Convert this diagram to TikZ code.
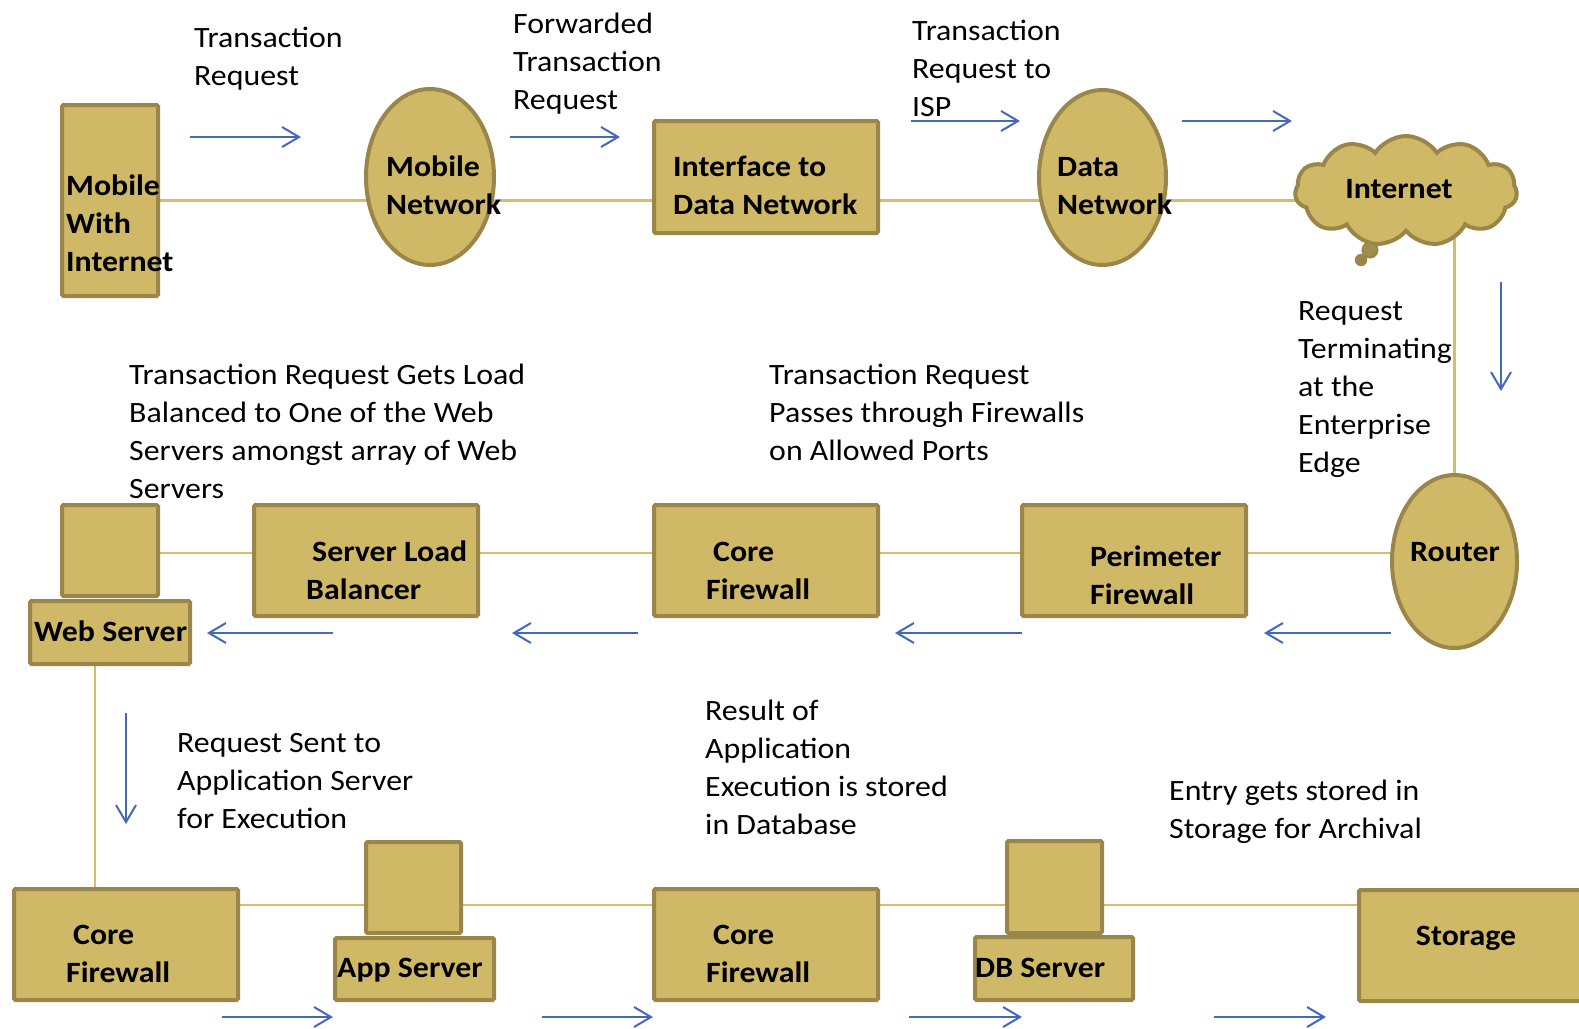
\documentclass[tikz,border=0pt]{standalone}
\usepackage{fontspec}
\setmainfont{Carlito}[FakeStretch=1.08]
\usetikzlibrary{shapes.geometric,shapes.symbols,arrows.meta,backgrounds}
\definecolor{boxfill}{HTML}{CFB966}
\definecolor{bord}{HTML}{9A8648}
\definecolor{conn}{HTML}{D2BE6E}
\definecolor{flowc}{HTML}{4468C0}
\tikzset{
  box/.style={draw=bord, fill=boxfill, line width=4pt, rounded corners=1.5pt, inner sep=0pt},
  oval/.style={ellipse, draw=bord, fill=boxfill, line width=4pt, inner sep=0pt},
  lbl/.style={inner sep=0pt, font=\fontsize{29.5}{38}\selectfont, anchor=base west},
  blbl/.style={inner sep=0pt, font=\fontsize{29.5}{38}\selectfont\bfseries, anchor=base west},
  conline/.style={draw=conn, line width=2.5pt},
  flow/.style={draw=flowc, line width=2pt, -{Straight Barb[length=17pt,width=20pt,line width=2pt]}},
}
\newcommand{\ml}[1]{\begin{tabular}[t]{@{}l@{}}#1\end{tabular}}
\begin{document}
\begin{tikzpicture}[x=1pt,y=-1pt]
\useasboundingbox (0,0) rectangle (1579,1028);

% ---------- top row
\node[box, minimum width=96pt, minimum height=191pt] (mob) at (110,200.5) {};
\node[oval, minimum width=128pt, minimum height=176pt] (mobnet) at (430,177) {};
\node[box, minimum width=224pt, minimum height=112pt] (iface) at (766,177) {};
\node[oval, minimum width=127pt, minimum height=175pt] (datanet) at (1102.5,177.5) {};
\node[cloud, draw=bord, fill=boxfill, line width=4pt, cloud puffs=11, cloud puff arc=115, aspect=2.0, minimum width=222pt, minimum height=110pt, inner sep=0pt] (cloud) at (1406,191) {};
\node[circle, draw=bord, fill=bord!85!boxfill, line width=2pt, minimum size=15pt, inner sep=0pt] (bub1) at (1370,250) {};
\node[circle, draw=bord, fill=bord, minimum size=12pt, inner sep=0pt] (bub2) at (1361,260) {};

% ---------- middle row
\node[oval, minimum width=125pt, minimum height=173pt] (router) at (1454.5,561.5) {};
\node[box, minimum width=224pt, minimum height=111pt] (perim) at (1134,560.5) {};
\node[box, minimum width=224pt, minimum height=111pt] (coremid) at (766,560.5) {};
\node[box, minimum width=224pt, minimum height=111pt] (slb) at (366,560.5) {};
\node[box, minimum width=96pt, minimum height=91pt] (webtop) at (110,550.5) {};
\node[box, minimum width=160pt, minimum height=63pt] (webbot) at (110,632.5) {};

% ---------- bottom row
\node[box, minimum width=224pt, minimum height=111pt] (corebl) at (126,944.5) {};
\node[box, minimum width=95pt, minimum height=91pt] (apptop) at (413.5,887.5) {};
\node[box, minimum width=159pt, minimum height=62pt] (appbot) at (414.5,969) {};
\node[box, minimum width=224pt, minimum height=111pt] (corebm) at (766,944.5) {};
\node[box, minimum width=95pt, minimum height=92pt] (dbtop) at (1054.5,887) {};
\node[box, minimum width=158pt, minimum height=63pt] (dbbot) at (1054,968.5) {};
\node[box, minimum width=239pt, minimum height=111pt] (storage) at (1478.5,945.5) {};

% ---------- helper coordinates for connector lines
\coordinate (mline) at (0,553);
\coordinate (bline) at (0,905);
\coordinate (vx) at (95,0);

\begin{scope}[on background layer]
  \fill[white] (0,0) rectangle (1579,1028);
  \draw[conline] (mob.center) -- (mob.center -| mobnet.center) -- (mob.center -| iface.center)
        -- (mob.center -| datanet.center) -- (mob.center -| cloud.center);
  \draw[conline] (cloud.center -| router.center) -- (router.center);
  \draw[conline] (router.center |- mline) -- (perim.center |- mline) -- (coremid.center |- mline)
        -- (slb.center |- mline) -- (webtop.center |- mline);
  \draw[conline] (webbot.center -| vx) -- (corebl.center -| vx);
  \draw[conline] (corebl.center |- bline) -- (apptop.center |- bline) -- (corebm.center |- bline)
        -- (dbtop.center |- bline) -- (storage.center |- bline);
\end{scope}

% ---------- labels in shapes
\node[blbl] (mob-t) at (66,195) {\ml{Mobile\\With\\Internet}};
\node[blbl] (mobnet-t) at (386,176) {\ml{Mobile\\Network}};
\node[blbl] (iface-t) at (673,176) {\ml{Interface to\\Data Network}};
\node[blbl] (datanet-t) at (1057,176) {\ml{Data\\Network}};
\node[blbl, anchor=base] (cloud-t) at (1399,198) {Internet};
\node[blbl] (router-t) at (1410,561) {Router};
\node[blbl] (perim-t) at (1090,566) {\ml{Perimeter\\Firewall}};
\node[blbl] (coremid-t) at (706,561) {\ml{\hspace*{7pt}Core\\Firewall}};
\node[blbl] (slb-t) at (306,561) {\ml{\hspace*{6pt}Server Load\\Balancer}};
\node[blbl] (web-t) at (34,641) {Web Server};
\node[blbl] (corebl-t) at (66,944) {\ml{\hspace*{7pt}Core\\Firewall}};
\node[blbl] (app-t) at (337,977) {App Server};
\node[blbl] (corebm-t) at (706,944) {\ml{\hspace*{7pt}Core\\Firewall}};
\node[blbl] (db-t) at (975,977) {DB Server};
\node[blbl, anchor=base] (storage-t) at (1466,945) {Storage};

% ---------- free labels
\node[lbl] (l1) at (194,47) {\ml{Transaction\\Request}};
\node[lbl] (l2) at (513,33) {\ml{Forwarded\\Transaction\\Request}};
\node[lbl] (l3) at (912,40) {\ml{Transaction\\Request to\\ISP}};
\node[lbl] (l4) at (1298,320) {\ml{Request\\Terminating\\at the\\Enterprise\\Edge}};
\node[lbl] (l5) at (129,384) {\ml{Transaction Request Gets Load\\Balanced to One of the Web\\Servers amongst array of Web\\Servers}};
\node[lbl] (l6) at (769,384) {\ml{Transaction Request\\Passes through Firewalls\\on Allowed Ports}};
\node[lbl] (l7) at (177,752) {\ml{Request Sent to\\Application Server\\for Execution}};
\node[lbl] (l8) at (705,720) {\ml{Result of\\Application\\Execution is stored\\in Database}};
\node[lbl] (l9) at (1169,800) {\ml{Entry gets stored in\\Storage for Archival}};

% ---------- flow arrows
\draw[flow] (190,137) -- (301,137);
\draw[flow] (510,137) -- (620,137);
\draw[flow] (911,121) -- (1020,121);
\draw[flow] (1182,121) -- (1292,121);
\draw[flow] (1501,282) -- (1501,391);
\draw[flow] (1391,633) -- (1264,633);
\draw[flow] (1022,633) -- (895,633);
\draw[flow] (638,633) -- (512,633);
\draw[flow] (333,633) -- (207,633);
\draw[flow] (126,713) -- (126,824);
\draw[flow] (222,1017) -- (333,1017);
\draw[flow] (542,1017) -- (653,1017);
\draw[flow] (909,1017) -- (1022,1017);
\draw[flow] (1214,1017) -- (1326,1017);
\end{tikzpicture}
\end{document}
